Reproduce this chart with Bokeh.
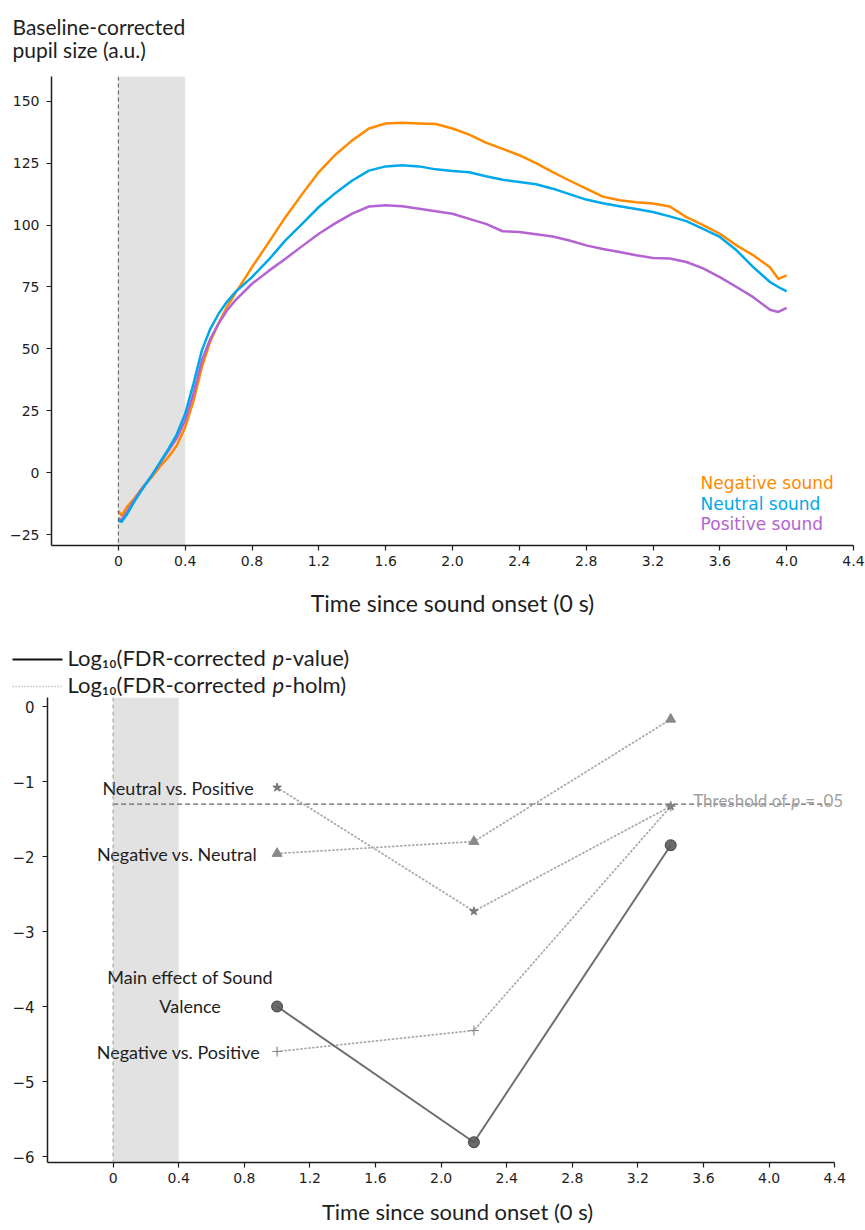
from bokeh.plotting import figure
from bokeh.models import (Range1d, FixedTicker, CustomJSTickFormatter, BoxAnnotation,
                          Span, ColumnDataSource, Label)
from bokeh.core.properties import value
from bokeh.embed import file_html
from bokeh.resources import INLINE
import math

# ---------------- data: top panel (pupil size) ----------------
time_s = [0, 0.02, 0.05, 0.1, 0.15, 0.2, 0.25, 0.3, 0.35, 0.4, 0.45, 0.5, 0.55, 0.6, 0.65,
          0.7, 0.8, 0.9, 1.0, 1.1, 1.2, 1.3, 1.4, 1.5, 1.6, 1.7, 1.8, 1.9, 2.0, 2.1, 2.2,
          2.3, 2.4, 2.5, 2.6, 2.7, 2.8, 2.9, 3.0, 3.1, 3.2, 3.3, 3.4, 3.5, 3.6, 3.7, 3.8,
          3.9, 3.95, 4.0]
negative = [-15.5, -17.3, -14, -10, -5.5, -1.8, 2.5, 6.3, 11, 18.4, 29, 42.6, 53, 60.3, 67,
            72.4, 83, 93, 103.2, 112.5, 121.4, 128.5, 134.2, 139, 141, 141.3, 141, 140.8, 139,
            136.5, 133.3, 130.8, 128.2, 125, 121.4, 118, 114.7, 111.5, 110, 109.2, 108.7,
            107.5, 103.2, 100, 96.5, 91.8, 87.8, 83, 78.3, 79.7]
neutral = [-19.3, -19.8, -17, -11.2, -6, -1.1, 4.3, 9.6, 15.5, 23.8, 36, 49.4, 58, 64.2, 69,
           72.9, 79, 86, 93.8, 100.5, 107.3, 113, 118, 122, 123.7, 124.2, 123.7, 122.5, 121.8,
           121.3, 119.7, 118.3, 117.4, 116.5, 114.7, 112.5, 110.3, 108.8, 107.6, 106.5, 105.3,
           103.5, 101.6, 98.5, 95.2, 89.8, 83, 77, 75, 73.2]
positive = [-18.6, -19, -16, -10.6, -5.8, -1.1, 3.8, 8.9, 14, 21.1, 32, 45.3, 54, 60.2, 65.5,
            69.6, 76.3, 81.5, 86.4, 91.5, 96.5, 100.8, 104.6, 107.5, 108, 107.6, 106.6, 105.6,
            104.6, 102.5, 100.5, 97.5, 97.2, 96.3, 95.4, 93.8, 91.8, 90.3, 89.1, 87.8, 86.7,
            86.5, 85.1, 82.5, 79, 75, 70.9, 65.8, 64.9, 66.6]
sound_labels = ["Negative sound", "Neutral sound", "Positive sound"]
sound_colors = ["#FF8A00", "#00A8EA", "#B464D2"]

top_y_ticks = [-25, 0, 25, 50, 75, 100, 125, 150]
x_ticks = [0, 0.4, 0.8, 1.2, 1.6, 2.0, 2.4, 2.8, 3.2, 3.6, 4.0, 4.4]

# ---------------- data: bottom panel (log10 p) ----------------
windows = [1.0, 2.2, 3.4]
main_effect = [-4.0, -5.81, -1.85]
neg_vs_pos = [-4.6, -4.32, -1.33]
neg_vs_neu = [-1.96, -1.80, -0.17]
neu_vs_pos = [-1.08, -2.73, -1.33]
threshold_p = 0.05
threshold_x = [0, 4.39]
bottom_y_ticks = [-6, -5, -4, -3, -2, -1, 0]

W = 865
LBL = "Lato"
TCK = "DejaVu Sans"
INK = "#1e1e1e"

num_fmt_x = CustomJSTickFormatter(code="return tick == 0 ? '0' : tick.toFixed(1);")
num_fmt_y = CustomJSTickFormatter(code="return tick < 0 ? '\u2212' + Math.abs(tick) : String(tick);")


def pixel_fig(h):
    f = figure(width=W, height=h, x_range=Range1d(0, W), y_range=Range1d(h, 0),
               output_backend="svg", toolbar_location=None, min_border=0,
               x_axis_location=None, y_axis_location=None, title=None)
    f.outline_line_color = None
    f.grid.visible = False
    return f


def style_axes(p):
    for ax in (p.xaxis[0], p.yaxis[0]):
        ax.axis_line_color = INK
        ax.axis_line_width = 1.5
        ax.major_tick_line_color = INK
        ax.major_tick_line_width = 1.2
        ax.major_tick_out = 5
        ax.major_tick_in = 0
        ax.minor_tick_line_color = None
        ax.major_label_text_font = TCK
        ax.major_label_text_font_size = "14px"
        ax.major_label_text_color = INK
    p.grid.visible = False
    p.outline_line_color = None


# ---------------- header ----------------
hdr = pixel_fig(76)
hdr.text(x=[12, 12], y=[26, 49], text=["Baseline-corrected", "pupil size (a.u.)"],
         text_font=value(LBL), text_font_size="21px", text_baseline="alphabetic",
         text_color=INK)

# ---------------- top panel ----------------
p1 = figure(width=W, height=544, x_range=Range1d(-0.4, 4.4), y_range=Range1d(-29.4, 160),
            output_backend="svg", toolbar_location=None, title=None,
            min_border_left=51, min_border_right=12, min_border_top=0, min_border_bottom=75)
p1.add_layout(BoxAnnotation(left=0, right=0.4, fill_color="#e2e2e2", fill_alpha=1,
                            line_color=None, level="underlay"))
p1.add_layout(Span(location=0, dimension="height", line_color="#555555", line_dash="4 3",
                   line_width=1))
for ys, c in [(negative, sound_colors[0]), (positive, sound_colors[2]), (neutral, sound_colors[1])]:
    p1.line(time_s, ys, line_color=c, line_width=2.5, line_join="round")
leg_src = ColumnDataSource(dict(x=[3.485] * 3, y=[-4.0, -12.5, -20.9], t=sound_labels,
                                c=sound_colors))
p1.text(x="x", y="y", text="t", text_color="c", source=leg_src, text_font=value(TCK),
        text_font_size="17px", text_baseline="middle")
p1.xaxis.ticker = FixedTicker(ticks=x_ticks)
p1.xaxis.formatter = num_fmt_x
p1.yaxis.ticker = FixedTicker(ticks=top_y_ticks)
p1.yaxis.formatter = num_fmt_y
style_axes(p1)
p1.yaxis.major_label_standoff = 7
p1.xaxis.axis_label = "Time since sound onset (0 s)"
p1.xaxis.axis_label_text_font = LBL
p1.xaxis.axis_label_text_font_size = "23px"
p1.xaxis.axis_label_text_font_style = "normal"
p1.xaxis.axis_label_text_color = INK
p1.xaxis.axis_label_standoff = 20

# ---------------- legend for bottom panel ----------------
lg = pixel_fig(77)
lg.line([12, 62], [39, 39], line_color="#111111", line_width=2)
lg.line([12, 62], [66, 66], line_color="#aaaaaa", line_width=1.6, line_dash="1 2")
for yy, tail in [(37, "-value)"), (64, "-holm)")]:
    lg.text(x=[67], y=[yy], text=["Log\u2081\u2080(FDR-corrected"], text_font=value(LBL),
            text_font_size="22px", text_baseline="middle", text_color=INK)
    lg.text(x=[272], y=[yy], text=["p"], text_font=value(LBL), text_font_size="22px",
            text_font_style="italic", text_baseline="middle", text_color=INK)
    lg.text(x=[284], y=[yy], text=[tail], text_font=value(LBL), text_font_size="22px",
            text_baseline="middle", text_color=INK)

# ---------------- bottom panel ----------------
p2 = figure(width=W, height=498, x_range=Range1d(-0.4, 4.539), y_range=Range1d(-6.08, 0.12),
            output_backend="svg", toolbar_location=None, title=None,
            min_border_left=47, min_border_right=8, min_border_top=0, min_border_bottom=33)
p2.add_layout(BoxAnnotation(left=0, right=0.4, fill_color="#e2e2e2", fill_alpha=1,
                            line_color=None, level="underlay"))
p2.add_layout(Span(location=0, dimension="height", line_color="#999999", line_dash="4 3",
                   line_width=1))
thr = math.log10(threshold_p)
p2.line(threshold_x, [thr, thr], line_color="#666666", line_dash="5 3", line_width=1.2)
for txt, off, style in [("Threshold of", 0, "normal"), ("p", 98, "italic"), ("= .05", 112, "normal")]:
    p2.add_layout(Label(x=3.537, y=thr, text=txt, x_offset=off, y_offset=4,
                        text_font=LBL, text_font_size="17px", text_font_style=style,
                        text_baseline="alphabetic", text_color="#a0a0a0"))

dot_col = "#aaaaaa"
for ys in (neu_vs_pos, neg_vs_neu, neg_vs_pos):
    p2.line(windows, ys, line_color=dot_col, line_width=1.8, line_dash="1 3", line_cap="round")
p2.line(windows, main_effect, line_color="#6e6e6e", line_width=2)

p2.scatter(windows, neu_vs_pos, marker="star", size=9, fill_color="#777777", line_color="#777777")
p2.scatter(windows, neg_vs_neu, marker="triangle", size=10, fill_color="#8a8a8a", line_color="#8a8a8a")
p2.scatter(windows, neg_vs_pos, marker="cross", size=10, line_color="#8a8a8a", line_width=1.2)
p2.scatter(windows, main_effect, marker="circle", size=11, fill_color="#5a5a5a",
           line_color="#444444", fill_alpha=0.9)

for txt, ys, off in [("Neutral vs. Positive", neu_vs_pos, -23),
                     ("Negative vs. Neutral", neg_vs_neu, -20),
                     ("Negative vs. Positive", neg_vs_pos, -17)]:
    p2.text(x=[windows[0]], y=[ys[0]], text=[txt], x_offset=off, text_font=value(LBL),
            text_font_size="18px", text_align="right", text_baseline="middle", text_color=INK)
p2.text(x=[windows[0]], y=[main_effect[0]], text=["Main effect of Sound\nValence"],
        x_offset=-87, y_offset=-15, text_font=value(LBL), text_font_size="18px",
        text_align="center", text_baseline="middle", text_color=INK, text_line_height=1.3)

p2.xaxis.ticker = FixedTicker(ticks=x_ticks)
p2.xaxis.formatter = num_fmt_x
p2.xaxis.bounds = (-0.4, 4.4)
p2.yaxis.ticker = FixedTicker(ticks=bottom_y_ticks)
p2.yaxis.formatter = num_fmt_y
style_axes(p2)
p2.yaxis.major_label_text_font_size = "15px"
p2.yaxis.major_label_standoff = 8

# ---------------- footer (x label of bottom panel) ----------------
ft = pixel_fig(32)
ft.text(x=[457], y=[16], text=["Time since sound onset (0 s)"], text_font=value(LBL),
        text_font_size="22px", text_align="center", text_baseline="middle", text_color=INK)

open("out.html", "w").write(file_html([hdr, p1, lg, p2, ft], INLINE))
